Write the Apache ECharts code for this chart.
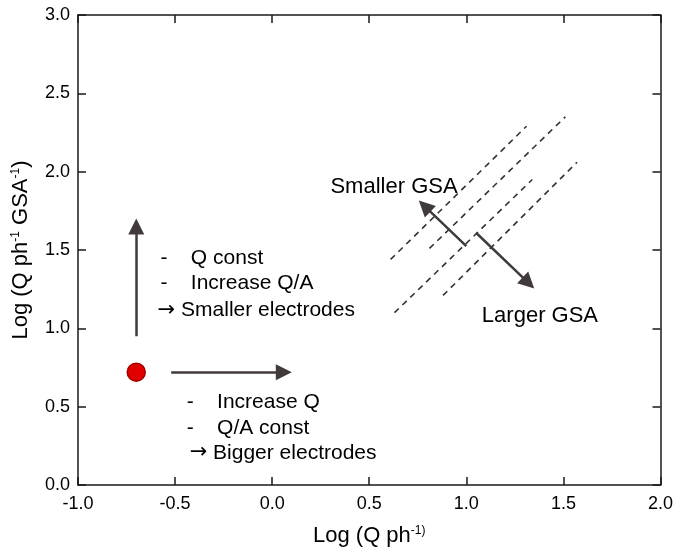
<!DOCTYPE html>
<html>
<head>
<meta charset="utf-8">
<script src="https://cdn.jsdelivr.net/npm/echarts@6/dist/echarts.min.js"></script>
<style>
html,body{margin:0;padding:0;background:#fff;}
#chart{width:676px;height:552px;}
</style>
</head>
<body>
<div id="chart"></div>
<script>
// ---- data ----
const xRange = [-1, 2];
const yRange = [0, 3];
const tickStep = 0.5;

const pointX = [-0.7];
const pointY = [0.72];

const upArrow = [[-0.7, 0.95], [-0.7, 1.65]];
const rightArrow = [[-0.52, 0.72], [0.06, 0.72]];

const dashedLineA = [[0.61, 1.44], [1.31, 2.29]];
const dashedLineB = [[0.81, 1.51], [1.51, 2.35]];
const dashedLineC = [[0.63, 1.10], [1.34, 1.95]];
const dashedLineD = [[0.88, 1.21], [1.57, 2.06]];

const smallerArrow = [[1.00, 1.525], [0.785, 1.78]];
const largerArrow = [[1.05, 1.61], [1.32, 1.29]];

const noteTexts = ['{t|-    Q const}', '{t|-    Increase Q/A}', '{a|\u2192}{t| Smaller electrodes}',
                   '{t|-    Increase Q}', '{t|-    Q/A const}', '{a|\u2192}{t| Bigger electrodes}'];
const noteX = [-0.575, -0.575, -0.59, -0.44, -0.44, -0.425];
const noteY = [1.45, 1.29, 1.115, 0.53, 0.365, 0.205];

const gsaTexts = ['Smaller GSA', 'Larger GSA'];
const gsaX = [0.955, 1.08];
const gsaY = [1.905, 1.08];

const xTitle = ['Log (Q ph', '-1)'];
const yTitle = ['Log (Q ph', '-1', ' GSA', '-1', ')'];

// ---- chart ----
const chart = echarts.init(document.getElementById('chart'), null, {renderer: 'canvas'});
const FONT = 'Liberation Sans, Arial, sans-serif';
const axisColor = '#1a1a1a';
const arrowColor = '#403a3a';

const supRich = {
  base: {fontSize: 22, fontFamily: FONT, color: '#000'},
  sup: {fontSize: 12, fontFamily: FONT, color: '#000', verticalAlign: 'top', padding: [0, 0, 10, 0]}
};
const noteRich = {
  t: {fontSize: 21, fontFamily: FONT, color: '#000'},
  a: {fontSize: 21, fontFamily: 'DejaVu Sans', color: '#000'}
};

function richTitle(parts) {
  return parts.map((p, i) => (i % 2 === 0 ? '{base|' + p + '}' : '{sup|' + p + '}')).join('');
}

const baseAxis = {
  interval: tickStep,
  splitLine: {show: false},
  axisLine: {show: true, onZero: false, lineStyle: {color: axisColor, width: 1.5}},
  axisTick: {show: true, inside: true, length: 8, lineStyle: {color: axisColor, width: 1.5}},
};

function lineSeries(coords, opts) {
  return Object.assign({
    type: 'lines',
    coordinateSystem: 'cartesian2d',
    xAxisIndex: 0, yAxisIndex: 0,
    silent: true,
    z: 3,
    data: [{coords: coords}]
  }, opts);
}

const dashStyle = {symbol: ['none', 'none'], lineStyle: {color: '#333', width: 1.6, type: [6, 5], opacity: 1}};
const arrowStyle = {symbol: ['none', 'triangle'], symbolSize: 16, lineStyle: {color: arrowColor, width: 2.5, opacity: 1}, itemStyle: {color: arrowColor}};

const option = {
  animation: false,
  backgroundColor: '#fff',
  grid: {left: 78, right: 13, top: 15, bottom: 67, containLabel: false},
  xAxis: [
    Object.assign({}, baseAxis, {
      type: 'value', position: 'bottom', min: xRange[0], max: xRange[1],
      axisLabel: {show: true, color: '#000', fontSize: 18, fontFamily: FONT, margin: 10,
        formatter: v => v.toFixed(1)},
      name: richTitle(xTitle), nameLocation: 'middle', nameGap: 40,
      nameTextStyle: {rich: supRich}
    }),
    Object.assign({}, baseAxis, {
      type: 'value', position: 'top', min: xRange[0], max: xRange[1],
      axisLabel: {show: false}
    })
  ],
  yAxis: [
    Object.assign({}, baseAxis, {
      type: 'value', position: 'left', min: yRange[0], max: yRange[1],
      axisLabel: {show: true, color: '#000', fontSize: 18, fontFamily: FONT, margin: 8,
        formatter: v => v.toFixed(1)},
      name: richTitle(yTitle), nameLocation: 'middle', nameGap: 46, nameRotate: 90,
      nameTextStyle: {rich: supRich}
    }),
    Object.assign({}, baseAxis, {
      type: 'value', position: 'right', min: yRange[0], max: yRange[1],
      axisLabel: {show: false}
    })
  ],
  series: [
    lineSeries(dashedLineA, dashStyle),
    lineSeries(dashedLineB, dashStyle),
    lineSeries(dashedLineC, dashStyle),
    lineSeries(dashedLineD, dashStyle),
    lineSeries(upArrow, arrowStyle),
    lineSeries(rightArrow, arrowStyle),
    lineSeries(smallerArrow, arrowStyle),
    lineSeries(largerArrow, arrowStyle),
    {
      type: 'scatter', silent: true, z: 5,
      data: pointX.map((x, i) => [x, pointY[i]]),
      symbol: 'circle', symbolSize: 18,
      itemStyle: {color: '#e00000', borderColor: '#a00000', borderWidth: 1.5, opacity: 1}
    },
    {
      type: 'scatter', silent: true, z: 6,
      data: noteTexts.map((t, i) => ({value: [noteX[i], noteY[i]], name: t})),
      symbolSize: 0,
      itemStyle: {opacity: 1},
      label: {show: true, position: 'right', distance: 0, formatter: p => p.name,
        rich: noteRich, color: '#000'}
    },
    {
      type: 'scatter', silent: true, z: 6,
      data: [
        {value: [gsaX[0], gsaY[0]], name: gsaTexts[0], label: {position: 'left'}},
        {value: [gsaX[1], gsaY[1]], name: gsaTexts[1], label: {position: 'right'}}
      ],
      symbolSize: 0,
      itemStyle: {opacity: 1},
      label: {show: true, distance: 0, formatter: p => p.name,
        fontSize: 22, fontFamily: FONT, color: '#000'}
    }
  ]
};
chart.setOption(option);
</script>
</body>
</html>
